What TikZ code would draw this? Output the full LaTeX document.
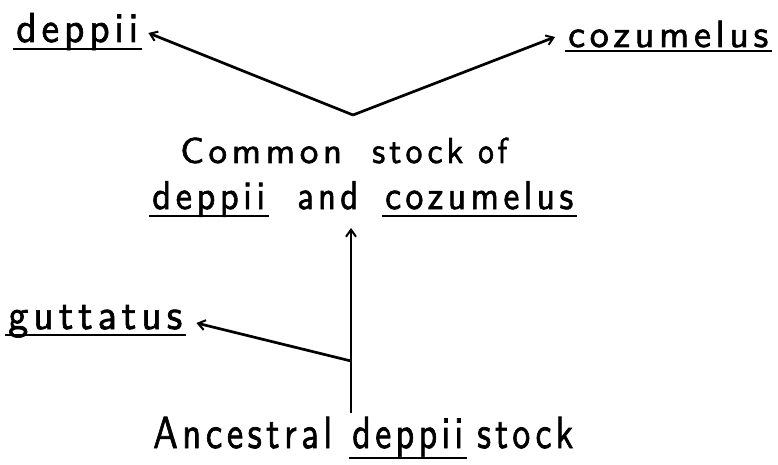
\documentclass[tikz,border=0pt]{standalone}
\usepackage{fontspec}
\usepackage{graphicx}
\newfontfamily\lett{lmsans10-regular.otf}[LetterSpace=12,FakeBold=1.6]
\usetikzlibrary{arrows.meta}
% a lettered word: target width (pt), font size (pt), text
\newcommand\lword[3]{\resizebox{#1pt}{\height}{\lett\fontsize{#2pt}{#2pt}\selectfont #3}}
\begin{document}
\begin{tikzpicture}[x=1pt,y=-1pt,
  lbl/.style={inner sep=0pt, anchor=base west},
  conn/.style={line width=2.7pt, -{Straight Barb[length=7pt,width=10pt,line width=2pt]}},
  uline/.style={line width=2.6pt}]
\useasboundingbox (0,0) rectangle (778,465);
% species labels
\node[lbl] (depTop) at (16,42)  {\lword{122}{42}{deppii}};
\node[lbl] (coz)    at (568,47) {\lword{200}{38}{cozumelus}};
\node[lbl] (gut)    at (8,329)  {\lword{174}{42}{guttatus}};
% common stock, two lines
\node[lbl] (common) at (180,163) {\lword{162}{36}{Common}};
\node[lbl] (stk)    at (372,163) {\lword{91}{36}{stock}};
\node[lbl] (of)     at (478,163) {\lword{29}{36}{of}};
\node[lbl] (depMid) at (152,209) {\lword{113}{40}{deppii}};
\node[lbl] (andw)   at (297,209) {\lword{61}{40}{and}};
\node[lbl] (cozMid) at (385,209) {\lword{188}{40}{cozumelus}};
% ancestral stock
\node[lbl] (anc)    at (153,448) {\lword{179}{45}{Ancestral}};
\node[lbl] (depLow) at (352,448) {\lword{111}{45}{deppii}};
\node[lbl] (stk2)   at (477,448) {\lword{96}{45}{stock}};
% underlines
\foreach \n/\d in {depTop/7,coz/4,gut/6,depMid/7,cozMid/7,depLow/10}
  \draw[uline] ([shift={(-3,\d)}]\n.base west) -- ([shift={(4,\d)}]\n.base east);
% branching points
\coordinate (fork)  at (353,115);
\coordinate (split) at (351,361);
\coordinate (root)  at (351,413);
\coordinate (mid)   at ([yshift=-19pt]andw.base);
% connectors
\draw[conn] (fork) -- ([shift={(10,-9)}]depTop.base east);
\draw[conn] (fork) -- ([shift={(-13,-10)}]coz.base west);
\draw[conn] (root) -- (root |- mid);
\draw[conn] (split) -- ([shift={(14,-6)}]gut.base east);
\end{tikzpicture}
\end{document}
